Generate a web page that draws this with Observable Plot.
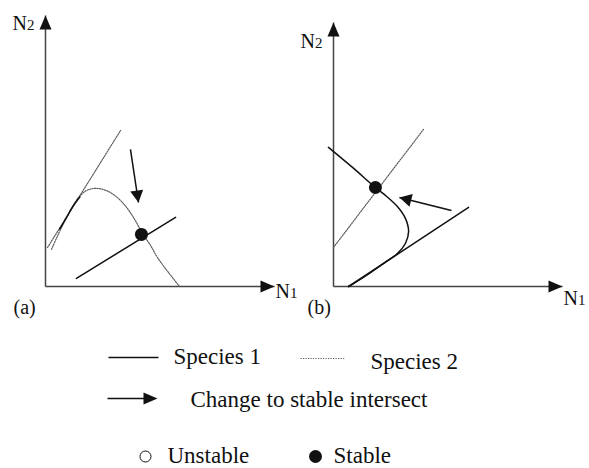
<!DOCTYPE html>
<html>
<head>
<meta charset="utf-8">
<script src="https://cdn.jsdelivr.net/npm/d3@7"></script>
<script src="https://cdn.jsdelivr.net/npm/@observablehq/plot@0.6"></script>
<style>
  html, body { margin: 0; padding: 0; background: #fff; }
  #fig { position: relative; width: 589px; height: 468px; overflow: hidden; }
  #fig svg { position: absolute; left: 0; top: 0; }
</style>
</head>
<body>
<div id="fig"></div>
<script>
// ---------- Panel (a): isoclines in the (N1, N2) plane ----------
const aSpecies2Line = [[0.09, 1.44], [3.28, 5.76]];
const aSpecies2Hump = [
  [0.26, 1.37], [0.70, 2.18], [1.09, 2.80], [1.44, 3.28], [1.79, 3.54],
  [2.18, 3.62], [2.66, 3.54], [3.14, 3.28], [3.54, 2.92], [3.84, 2.55],
  [4.24, 1.96], [4.59, 1.51], [4.89, 1.07], [5.37, 0.52], [5.85, 0.0]
];
const aSpecies1Segment = [[0.62, 2.12], [0.90, 2.52], [1.20, 2.96], [1.50, 3.30]];
const aSpecies1Line = [[1.35, 0.30], [5.68, 2.55]];
const aStable = [[4.19, 1.92]];
const aShift = [[3.71, 5.06], [4.06, 3.10]];

// ---------- Panel (b) ----------
const bSpecies2Line = [[0.0, 1.48], [3.93, 5.95]];
const bSpecies1Curve = [
  [-0.22, 5.27], [0.83, 4.51], [1.83, 3.75], [2.23, 3.48], [2.79, 3.03],
  [3.14, 2.58], [3.28, 2.08], [3.14, 1.63], [2.79, 1.25], [2.31, 0.95],
  [1.62, 0.53], [0.66, 0.0]
];
const bSpecies1Line = [[0.66, 0.0], [5.90, 3.0]];
const bStable = [[1.83, 3.75]];
const bShift = [[5.15, 2.88], [2.88, 3.37]];

// ---------- Text ----------
const axisNames = ["N", "N"];
const axisSubscripts = ["1", "2"];
const panelTags = ["(a)", "(b)"];
const legendLabels = ["Species 1", "Species 2", "Change to stable intersect", "Unstable", "Stable"];

const FONT = '"Liberation Serif", "Times New Roman", Times, serif';
const INK = "#111";
const AXIS = "#444";
const DOTTED = "#5a5a5a";

// Filled arrowhead whose tip sits at the symbol origin, pointing up before rotation.
function arrowHead(len, wid) {
  return {
    draw(ctx) {
      ctx.moveTo(0, 0);
      ctx.lineTo(wid / 2, len);
      ctx.lineTo(-wid / 2, len);
      ctx.closePath();
    }
  };
}

// "N" with a smaller index digit, anchored at an axis tip and nudged by (dx, dy)
function axisLabel(p, name, sub, off) {
  const base = {x: () => p[0], y: () => p[1], textAnchor: "start", lineAnchor: "bottom", fill: INK};
  return [
    Plot.text([name], {...base, text: d => d, dx: off.dx, dy: off.dy, fontSize: 20}),
    Plot.text([sub], {...base, text: d => d, dx: off.dx + 14.4, dy: off.dy, fontSize: 15})
  ];
}

function panel(cfg) {
  const sx = d3.scaleLinear([0, 10], cfg.xRange);
  const sy = d3.scaleLinear([0, 10], cfg.yRange);
  // screen-space heading (degrees clockwise from up) of the segment p -> q
  const heading = (p, q) =>
    Math.atan2(sx(q[0]) - sx(p[0]), -(sy(q[1]) - sy(p[1]))) * 180 / Math.PI;

  const axes = [
    {from: [0, 0], to: [10, 0]},
    {from: [0, 0], to: [0, 10]}
  ];
  const axisHeads = axes.map(a => ({p: a.to, angle: heading(a.from, a.to)}));
  const shiftHead = [{p: cfg.shift[1], angle: heading(cfg.shift[0], cfg.shift[1])}];

  return Plot.plot({
    width: 589,
    height: 330,
    margin: 0,
    style: {background: "transparent", fontFamily: FONT, overflow: "visible"},
    x: {domain: [0, 10], range: cfg.xRange, axis: null},
    y: {domain: [0, 10], range: cfg.yRange, axis: null},
    marks: [
      Plot.link(axes, {
        x1: d => d.from[0], y1: d => d.from[1], x2: d => d.to[0], y2: d => d.to[1],
        stroke: AXIS, strokeWidth: 1.5
      }),
      Plot.dot(axisHeads, {
        x: d => d.p[0], y: d => d.p[1], rotate: "angle",
        symbol: arrowHead(14, 12), fill: INK, stroke: "none"
      }),
      ...cfg.dotted.map(line => Plot.line(line, {
        x: d => d[0], y: d => d[1], curve: "catmull-rom",
        stroke: DOTTED, strokeWidth: 1.2, strokeDasharray: "1.2,1.3"
      })),
      ...cfg.solid.map(line => Plot.line(line, {
        x: d => d[0], y: d => d[1], curve: "catmull-rom",
        stroke: INK, strokeWidth: 1.5
      })),
      Plot.link([cfg.shift], {
        x1: d => d[0][0], y1: d => d[0][1], x2: d => d[1][0], y2: d => d[1][1],
        stroke: INK, strokeWidth: 1.5
      }),
      Plot.dot(shiftHead, {
        x: d => d.p[0], y: d => d.p[1], rotate: "angle",
        symbol: arrowHead(12, 13), fill: INK, stroke: "none"
      }),
      Plot.dot(cfg.stable, {x: d => d[0], y: d => d[1], r: 6.5, fill: INK, stroke: "none"}),
      ...axisLabel([10, 0], axisNames[0], axisSubscripts[0], cfg.n1Off),
      ...axisLabel([0, 10], axisNames[1], axisSubscripts[1], cfg.n2Off),
      Plot.text([cfg.tag], {
        x: () => 0, y: () => 0, text: d => d, dx: cfg.tagOff.dx, dy: cfg.tagOff.dy,
        textAnchor: "start", lineAnchor: "bottom", fontSize: 20, fill: INK
      })
    ]
  });
}

const fig = document.getElementById("fig");

fig.append(panel({
  xRange: [45, 274], yRange: [286, 15],
  dotted: [aSpecies2Line, aSpecies2Hump],
  solid: [aSpecies1Segment, aSpecies1Line],
  stable: aStable, shift: aShift, tag: panelTags[0],
  n1Off: {dx: 1, dy: 11}, n2Off: {dx: -33, dy: 14}, tagOff: {dx: -32, dy: 27}
}));

fig.append(panel({
  xRange: [333, 562], yRange: [286, 22],
  dotted: [bSpecies2Line],
  solid: [bSpecies1Curve, bSpecies1Line],
  stable: bStable, shift: bShift, tag: panelTags[1],
  n1Off: {dx: 1, dy: 18}, n2Off: {dx: -33, dy: 25}, tagOff: {dx: -26, dy: 27}
}));

// ---------- Key below the panels (pixel layout) ----------
const keyLines = [
  {x1: 108, x2: 158, y: 357, dash: null, color: INK, w: 1.5},
  {x1: 300, x2: 345, y: 358, dash: "1.2,1.3", color: DOTTED, w: 1.2},
  {x1: 107, x2: 152, y: 398, dash: null, color: INK, w: 1.5}
];
const keyArrowTip = [{x: 157, y: 398}];
const keyOpen = [{x: 145, y: 456}];
const keyFilled = [{x: 315, y: 456}];
const keyTextPos = [
  {x: 173, y: 363}, {x: 370, y: 368}, {x: 190, y: 406}, {x: 167, y: 462}, {x: 333, y: 462}
];

fig.append(Plot.plot({
  width: 589,
  height: 468,
  margin: 0,
  style: {background: "transparent", fontFamily: FONT},
  x: {type: "identity", axis: null},
  y: {type: "identity", axis: null},
  marks: [
    ...keyLines.map(k => Plot.link([k], {
      x1: "x1", x2: "x2", y1: "y", y2: "y",
      stroke: k.color, strokeWidth: k.w, strokeDasharray: k.dash
    })),
    Plot.dot(keyArrowTip, {x: "x", y: "y", rotate: 90, symbol: arrowHead(14, 12), fill: INK, stroke: "none"}),
    Plot.dot(keyOpen, {x: "x", y: "y", r: 5.5, fill: "white", stroke: INK, strokeWidth: 1}),
    Plot.dot(keyFilled, {x: "x", y: "y", r: 6.5, fill: INK, stroke: "none"}),
    Plot.text(legendLabels, {
      x: (d, i) => keyTextPos[i].x, y: (d, i) => keyTextPos[i].y, text: d => d,
      textAnchor: "start", lineAnchor: "bottom", fontSize: 23, fill: INK
    })
  ]
}));
</script>
</body>
</html>
